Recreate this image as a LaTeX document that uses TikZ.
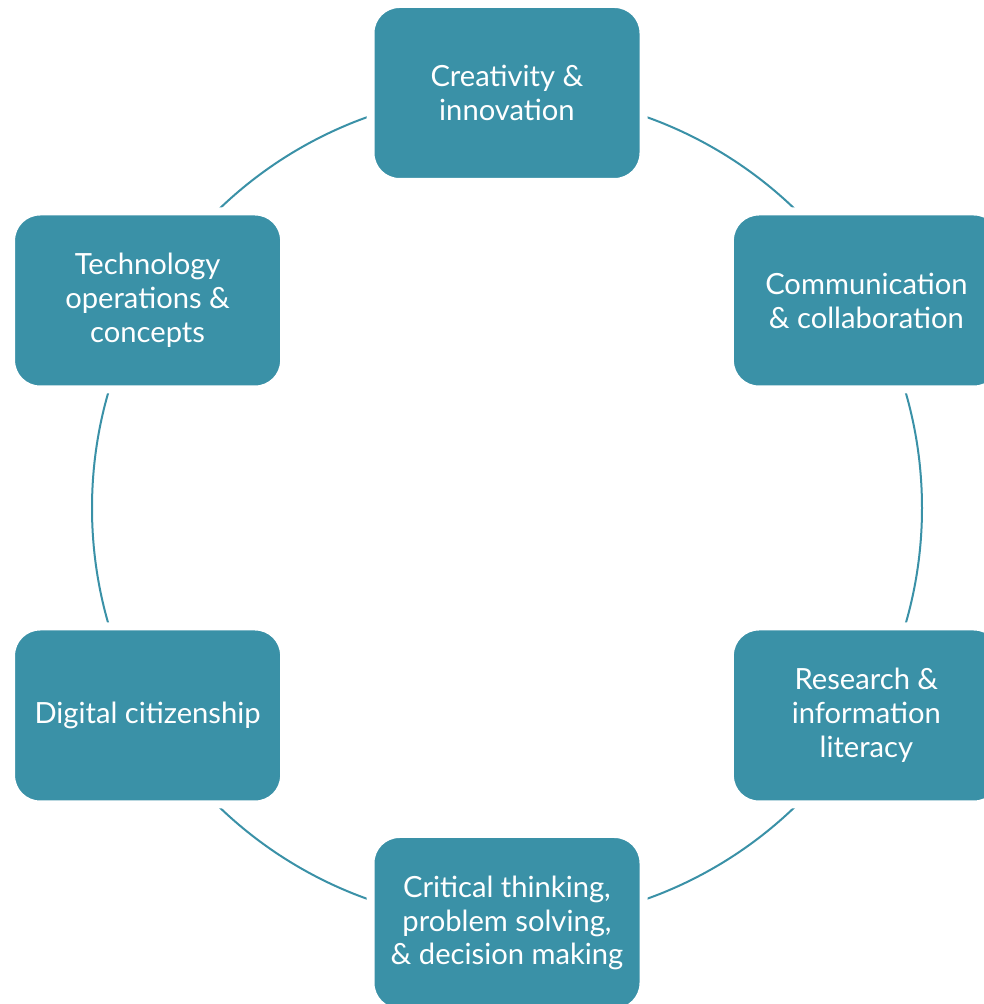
\documentclass[tikz,border=0pt]{standalone}
\usepackage{fontspec}
\setmainfont{Lato}
\usepackage{tikz}
\usetikzlibrary{positioning,calc}
\definecolor{skillteal}{RGB}{58,145,167}

\begin{document}
\begin{tikzpicture}[
    skill/.style={rectangle, rounded corners=0.58cm, fill=skillteal, draw=white,
        line width=0.16cm, minimum width=5.46cm, minimum height=3.56cm,
        inner sep=0pt, align=center, text=white,
        font=\fontsize{16.6}{19.3}\selectfont},
    ring/.style={skillteal, line width=0.04cm}]

\useasboundingbox (0, 0) rectangle (19.68, 20.08);
\clip (0, 0) rectangle (19.68, 20.08);

\coordinate (ctr) at (10.14, 9.92);
\draw[ring] (ctr) circle[radius=8.3];

\node[skill] (creat) at ($(ctr)+(90:8.3)$) {Creativity \&\\innovation};
\node[skill] (comm) at ($(ctr)+(30:8.3)$) {Communication\\\& collaboration};
\node[skill] (research) at ($(ctr)+(-30:8.3)$) {Research \&\\information\\literacy};
\node[skill] (crit) at ($(ctr)+(-90:8.3)$) {Critical thinking,\\problem solving,\\\& decision making};
\node[skill] (citizen) at ($(ctr)+(-150:8.3)$) {Digital citizenship};
\node[skill] (tech) at ($(ctr)+(150:8.3)$) {Technology\\operations \&\\concepts};

\end{tikzpicture}
\end{document}
